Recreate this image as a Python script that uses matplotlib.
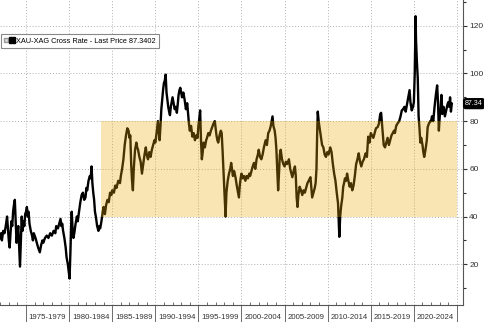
import matplotlib.pyplot as plt
from matplotlib.lines import Line2D
from matplotlib.legend_handler import HandlerTuple
from matplotlib.ticker import MultipleLocator

plt.rcParams["font.family"] = ["Liberation Sans", "DejaVu Sans"]

# XAU-XAG cross rate, (year, ratio)
xau_xag = [
    (1972.0, 31), (1972.1, 33), (1972.2, 30), (1972.35, 34), (1972.5, 33), (1972.65, 36),
    (1972.8, 40), (1972.9, 35), (1973.0, 30), (1973.1, 27), (1973.2, 33), (1973.3, 38),
    (1973.4, 36), (1973.5, 42), (1973.6, 45), (1973.7, 47), (1973.8, 38), (1973.9, 29),
    (1974.0, 33), (1974.1, 36), (1974.2, 28), (1974.3, 19), (1974.4, 30), (1974.5, 40),
    (1974.6, 34), (1974.7, 38), (1974.8, 36), (1974.9, 41), (1975.0, 42), (1975.1, 44),
    (1975.2, 40), (1975.3, 42), (1975.4, 37), (1975.55, 34), (1975.7, 32), (1975.8, 30),
    (1975.9, 33), (1976.0, 32), (1976.1, 31), (1976.25, 29), (1976.4, 27), (1976.6, 25),
    (1976.75, 28), (1976.9, 30), (1977.0, 29), (1977.2, 31), (1977.4, 32), (1977.6, 31),
    (1977.8, 33), (1978.0, 32), (1978.2, 34), (1978.4, 33), (1978.5, 36), (1978.7, 35),
    (1978.85, 37), (1979.0, 39), (1979.1, 36), (1979.2, 37), (1979.3, 34), (1979.45, 31),
    (1979.6, 27), (1979.7, 23), (1979.85, 20), (1979.95, 17), (1980.05, 14), (1980.15, 25),
    (1980.25, 38), (1980.3, 42), (1980.4, 35), (1980.5, 31), (1980.6, 33), (1980.75, 37),
    (1980.9, 40), (1981.0, 38), (1981.15, 42), (1981.3, 46), (1981.45, 49), (1981.6, 50),
    (1981.75, 47), (1981.9, 48), (1982.0, 52), (1982.1, 51), (1982.25, 55), (1982.4, 57),
    (1982.5, 56), (1982.6, 61), (1982.7, 54), (1982.8, 50), (1982.9, 47), (1983.0, 42),
    (1983.1, 40), (1983.25, 36), (1983.4, 34), (1983.5, 36), (1983.6, 35), (1983.75, 38),
    (1983.9, 42), (1984.0, 44), (1984.15, 41), (1984.3, 45), (1984.45, 47), (1984.6, 46),
    (1984.75, 50), (1984.9, 49), (1985.0, 51), (1985.2, 50), (1985.35, 53), (1985.5, 52),
    (1985.7, 55), (1985.9, 54), (1986.0, 57), (1986.15, 60), (1986.3, 64), (1986.45, 70),
    (1986.6, 74), (1986.75, 77), (1986.9, 76), (1987.0, 73), (1987.1, 74), (1987.2, 62),
    (1987.3, 55), (1987.4, 51), (1987.5, 60), (1987.65, 68), (1987.8, 71), (1987.9, 69),
    (1988.0, 68), (1988.15, 65), (1988.3, 63), (1988.45, 58), (1988.6, 62), (1988.75, 66),
    (1988.9, 69), (1989.0, 66), (1989.15, 64), (1989.3, 67), (1989.45, 65), (1989.6, 68),
    (1989.75, 70), (1989.9, 72), (1990.0, 71), (1990.15, 75), (1990.3, 80), (1990.4, 76),
    (1990.5, 72), (1990.6, 78), (1990.7, 85), (1990.8, 89), (1990.9, 93), (1991.0, 96),
    (1991.1, 97), (1991.2, 99.5), (1991.3, 92), (1991.4, 89), (1991.5, 86), (1991.6, 84),
    (1991.7, 82.5), (1991.8, 86), (1991.9, 88), (1992.0, 90), (1992.1, 88), (1992.25, 85),
    (1992.4, 86), (1992.5, 83.5), (1992.6, 87), (1992.7, 91), (1992.8, 93), (1992.9, 94),
    (1993.0, 92), (1993.1, 90), (1993.25, 92), (1993.4, 89), (1993.55, 85), (1993.7, 87.5),
    (1993.8, 83), (1993.9, 79), (1994.0, 76), (1994.15, 78), (1994.3, 73.5), (1994.45, 75),
    (1994.6, 72), (1994.75, 74), (1994.9, 73), (1995.0, 78), (1995.1, 81), (1995.2, 84.5),
    (1995.3, 72), (1995.4, 64), (1995.5, 67), (1995.6, 71), (1995.75, 69), (1995.9, 72),
    (1996.0, 73), (1996.15, 75), (1996.3, 74), (1996.45, 76), (1996.6, 77.5), (1996.75, 79),
    (1996.9, 80), (1997.0, 77), (1997.1, 74), (1997.2, 72), (1997.3, 71), (1997.45, 74),
    (1997.6, 76), (1997.7, 75), (1997.8, 68), (1997.9, 60), (1998.0, 51), (1998.1, 44),
    (1998.15, 40), (1998.25, 50), (1998.4, 55), (1998.55, 58), (1998.7, 60), (1998.8, 62.5),
    (1998.9, 60), (1999.0, 57), (1999.15, 59), (1999.3, 56.5), (1999.45, 53), (1999.6, 50),
    (1999.7, 48), (1999.8, 53), (1999.9, 56), (2000.0, 58), (2000.15, 56), (2000.3, 57),
    (2000.45, 55), (2000.6, 57), (2000.75, 56), (2000.9, 58), (2001.0, 57), (2001.15, 59),
    (2001.3, 61), (2001.45, 62.5), (2001.6, 60), (2001.75, 64), (2001.9, 66), (2002.0, 68),
    (2002.15, 65), (2002.3, 64), (2002.45, 66), (2002.6, 69), (2002.8, 72), (2002.95, 70),
    (2003.1, 75), (2003.25, 76), (2003.4, 78), (2003.5, 80), (2003.6, 82), (2003.7, 78),
    (2003.85, 76), (2003.95, 73), (2004.05, 68), (2004.15, 60), (2004.25, 51), (2004.35, 58),
    (2004.45, 66), (2004.55, 68), (2004.7, 64), (2004.85, 62), (2005.0, 61), (2005.15, 63),
    (2005.3, 62), (2005.5, 64), (2005.65, 60), (2005.8, 58), (2005.9, 56.5), (2006.05, 59),
    (2006.2, 61), (2006.3, 57), (2006.4, 48), (2006.5, 44), (2006.6, 49), (2006.75, 52.5),
    (2006.9, 51), (2007.05, 49), (2007.2, 51), (2007.35, 50), (2007.5, 52), (2007.65, 54),
    (2007.8, 55), (2008.0, 56.5), (2008.1, 52), (2008.2, 48), (2008.35, 50), (2008.5, 52),
    (2008.6, 54), (2008.7, 60), (2008.78, 75), (2008.85, 84), (2008.95, 80), (2009.05, 77.5),
    (2009.2, 74), (2009.35, 70), (2009.5, 69), (2009.65, 66), (2009.8, 65), (2009.95, 67),
    (2010.1, 66), (2010.3, 69), (2010.45, 67), (2010.6, 62), (2010.75, 58), (2010.9, 55),
    (2011.05, 50), (2011.2, 45.5), (2011.3, 36), (2011.35, 31.5), (2011.45, 40), (2011.55, 44),
    (2011.7, 48), (2011.8, 52.5), (2011.9, 54), (2012.0, 56), (2012.15, 55), (2012.25, 58),
    (2012.4, 55), (2012.55, 52.5), (2012.7, 54), (2012.85, 51), (2013.0, 53), (2013.15, 57),
    (2013.3, 62), (2013.45, 64), (2013.6, 66.5), (2013.75, 63), (2013.9, 61), (2014.05, 63),
    (2014.2, 64), (2014.4, 66.5), (2014.55, 65), (2014.7, 73.5), (2014.85, 71), (2015.0, 75),
    (2015.15, 74), (2015.3, 73), (2015.45, 75), (2015.6, 77), (2015.8, 77.5), (2015.95, 79),
    (2016.1, 83), (2016.2, 83.5), (2016.35, 77), (2016.5, 70), (2016.65, 69), (2016.8, 71),
    (2016.95, 73), (2017.1, 70), (2017.25, 72), (2017.4, 74), (2017.55, 75), (2017.7, 76),
    (2017.8, 75), (2017.95, 78), (2018.1, 79), (2018.3, 80), (2018.45, 82), (2018.6, 84.5),
    (2018.75, 85), (2018.9, 86), (2019.05, 84), (2019.2, 87), (2019.35, 90), (2019.5, 93),
    (2019.6, 88), (2019.75, 84.5), (2019.9, 86), (2020.0, 88), (2020.1, 100), (2020.2, 124),
    (2020.25, 114), (2020.35, 105), (2020.45, 98), (2020.55, 82), (2020.65, 77), (2020.75, 71),
    (2020.85, 73), (2021.0, 70), (2021.1, 67), (2021.2, 65), (2021.35, 68), (2021.5, 72),
    (2021.6, 77.5), (2021.75, 79), (2021.9, 80), (2022.0, 80), (2022.1, 82), (2022.25, 80),
    (2022.4, 86), (2022.55, 91), (2022.7, 95), (2022.8, 88), (2022.9, 76), (2023.0, 82),
    (2023.1, 85), (2023.2, 91), (2023.3, 83), (2023.45, 86), (2023.6, 82), (2023.75, 84.5),
    (2023.9, 87), (2024.0, 88), (2024.1, 86), (2024.2, 90), (2024.3, 84), (2024.4, 87.34),
]
years = [p[0] for p in xau_xag]
ratio = [p[1] for p in xau_xag]

last_price = 87.3402
band_low, band_high = 40, 80
band_start, band_end = 1983.75, 2025
period_starts = list(range(1975, 2025, 5))
period_labels = [f"{y}-{y + 4}" for y in period_starts]

fig = plt.figure(figsize=(4.85, 3.22), dpi=100)
ax = fig.add_axes([0, 17 / 322, 463 / 485, 305 / 322])

ax.plot(years, ratio, color="black", lw=1.7, zorder=2)
# semi-transparent band drawn over the line (line looks brown inside it)
ax.fill_between([band_start, band_end], band_low, band_high,
                color="#eeac05", alpha=0.3, lw=0, zorder=3)

ax.set_xlim(1971.98, 2025.7)
ax.set_ylim(2.9, 130.8)

# y axis on the right
ax.yaxis.tick_right()
ax.yaxis.set_major_locator(MultipleLocator(20))
ax.yaxis.set_minor_locator(MultipleLocator(10))
ax.tick_params(axis="y", which="major", direction="out", length=3, width=0.8,
               labelsize=6, colors="#333333", pad=1.5)
ax.tick_params(axis="y", which="minor", direction="out", length=2, width=0.8, colors="#333333")

# x axis: long separators at 5-year marks, yearly small ticks inside
ax.set_xticks(period_starts + [2025])
ax.set_xticklabels([])
ax.xaxis.set_minor_locator(MultipleLocator(1))
ax.tick_params(axis="x", which="major", direction="out", length=17, width=0.6, colors="#555555")
ax.tick_params(axis="x", which="minor", direction="in", length=2.5, width=0.6, colors="#555555")
for start, lab in zip(period_starts, period_labels):
    ax.text(start + 2.5, -0.041, lab, transform=ax.get_xaxis_transform(),
            ha="center", va="center", fontsize=5.6, color="#333333")

ax.grid(which="major", linestyle=(0, (1, 2)), color="#b0b0b0", lw=0.7, zorder=1)
for side in ["top", "left"]:
    ax.spines[side].set_visible(False)
for side in ["right", "bottom"]:
    ax.spines[side].set_color("#555555")
    ax.spines[side].set_linewidth(0.8)

# last price tag on the axis
ax.annotate(f"{last_price:.2f}", xy=(1, last_price), xycoords=("axes fraction", "data"),
            xytext=(1.5, 0), textcoords="offset points", ha="left", va="center",
            fontsize=5.1, color="white", annotation_clip=False,
            bbox=dict(boxstyle="round,pad=0.2,rounding_size=0.3", fc="black", ec="black"))

icon = Line2D([], [], marker="s", color="#999999", mfc="#dddddd", linestyle="none", markersize=3.5)
square = Line2D([], [], marker="s", color="black", linestyle="none", markersize=5)
leg = ax.legend([(icon, square)], [f"XAU-XAG Cross Rate - Last Price {last_price}"],
                handler_map={tuple: HandlerTuple(ndivide=None, pad=0.4)},
                loc="upper left", bbox_to_anchor=(0.002, 0.887), fontsize=5.3,
                handlelength=1.4, handletextpad=0.3, borderpad=0.4, borderaxespad=0,
                fancybox=False, edgecolor="#888888", framealpha=1)
leg.get_frame().set_linewidth(0.8)

fig.savefig("out.png", dpi=100)
